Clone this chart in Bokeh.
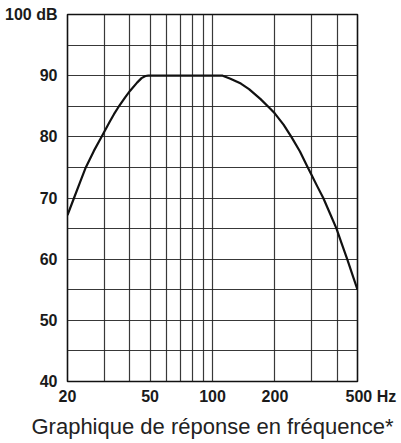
from bokeh.plotting import figure
from bokeh.models import FixedTicker, Range1d
from bokeh.embed import file_html
from bokeh.resources import INLINE

# Frequency response curve
freq_hz = [20, 21.5, 23, 24.5, 26.8, 29.2, 32, 33.5, 35.1, 38, 40, 43.4, 45.5, 47.5, 49,
           60, 80, 100, 112, 122, 137, 150, 170, 190, 200, 220, 240, 264, 286, 300,
           320, 342, 368, 396, 420, 446, 472, 500]
level_db = [67.2, 70, 72.6, 75, 77.7, 80, 82.5, 83.7, 84.8, 86.5, 87.5, 88.9, 89.6, 89.95, 90,
            90, 90, 90, 90, 89.5, 88.7, 87.8, 86.2, 84.6, 83.8, 82.0, 80, 77.6, 75.2, 73.8,
            71.9, 70, 67.5, 65, 62.5, 60, 57.5, 55]

x_label_ticks = [20, 50, 100, 200, 500]
x_grid_ticks = [20, 30, 40, 50, 60, 70, 80, 90, 100, 200, 300, 400, 500]
y_label_ticks = [40, 50, 60, 70, 80, 90, 100]
y_grid_ticks = [45, 50, 55, 60, 65, 70, 75, 80, 85, 90, 95]

NB = "\u00a0"

p = figure(width=401, height=443, x_axis_type="log",
           x_range=Range1d(20, 500), y_range=Range1d(40, 100),
           output_backend="svg", toolbar_location=None,
           min_border_left=67, min_border_right=44, min_border_top=14, min_border_bottom=62)

p.line(freq_hz, level_db, line_color="#111111", line_width=2.2, line_join="round")

p.outline_line_color = "#111111"
p.outline_line_width = 1.6
p.outline_line_alpha = 1.0

p.xaxis.ticker = FixedTicker(ticks=x_label_ticks)
p.yaxis.ticker = FixedTicker(ticks=y_label_ticks)
p.xgrid.ticker = FixedTicker(ticks=x_grid_ticks)
p.ygrid.ticker = FixedTicker(ticks=y_grid_ticks)
for g in (p.xgrid, p.ygrid):
    g.grid_line_color = "#222222"
    g.grid_line_width = 1.2
    g.grid_line_alpha = 0.9

p.xaxis.major_label_overrides = {500: NB * 6 + "500 Hz"}
p.yaxis.major_label_overrides = {100: "100 dB"}

for ax in (p.xaxis, p.yaxis):
    ax.axis_line_color = None
    ax.major_tick_line_color = None
    ax.minor_tick_line_color = None
    ax.major_tick_out = 0
    ax.major_tick_in = 0
    ax.minor_tick_out = 0
    ax.minor_tick_in = 0
    ax.major_label_text_font = "Liberation Sans"
    ax.major_label_text_font_style = "bold"
    ax.major_label_text_font_size = "16px"
    ax.major_label_text_color = "#1a1a1a"

p.xaxis.major_label_standoff = 6
p.yaxis.major_label_standoff = 10

p.xaxis.axis_label = "Graphique de réponse en fréquence*"
p.xaxis.axis_label_text_font = "Liberation Sans"
p.xaxis.axis_label_text_font_style = "normal"
p.xaxis.axis_label_text_font_size = "22px"
p.xaxis.axis_label_text_color = "#222222"
p.xaxis.axis_label_standoff = 6

open("out.html", "w").write(file_html(p, INLINE))
